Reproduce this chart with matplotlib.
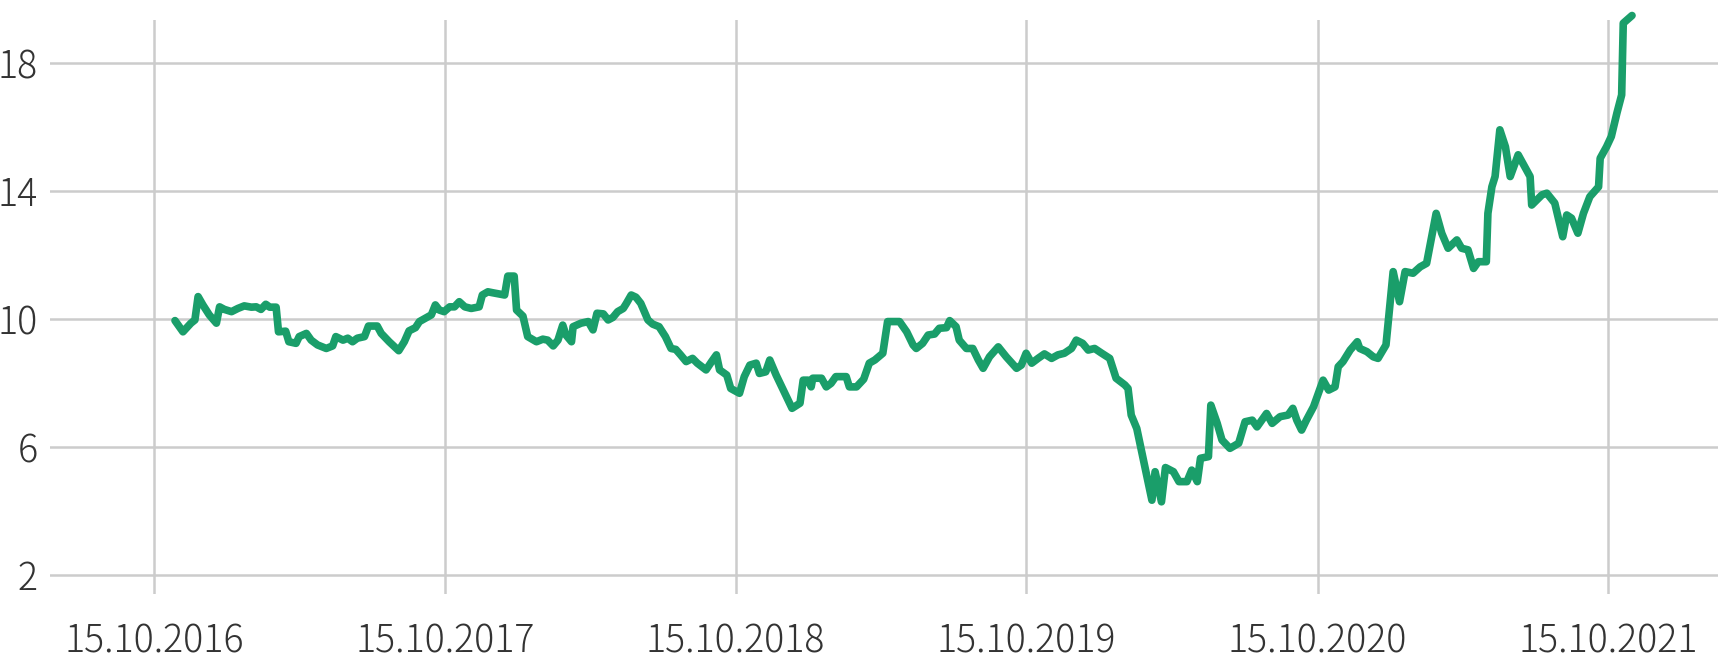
import pandas as pd
import matplotlib
matplotlib.use("Agg")
import matplotlib.pyplot as plt
import matplotlib.dates as mdates

plt.rcParams['font.family'] = ['Noto Sans CJK JP', 'DejaVu Sans']

# --- Datos (fecha, valor) ---
dates_2016 = ["2016-11-10", "2016-11-20", "2016-11-30", "2016-12-05", "2016-12-09", "2016-12-15", "2016-12-23"]
values_2016 = [9.95, 9.60, 9.87, 9.97, 10.70, 10.44, 10.13]

dates_2017 = ["2017-01-01", "2017-01-05", "2017-01-11", "2017-01-20", "2017-01-28", "2017-02-05", "2017-02-14",
              "2017-02-20", "2017-02-26", "2017-03-04", "2017-03-09", "2017-03-17", "2017-03-20", "2017-03-29",
              "2017-04-02", "2017-04-11", "2017-04-15", "2017-04-24", "2017-04-30", "2017-05-08", "2017-05-19",
              "2017-05-27", "2017-05-31", "2017-06-09", "2017-06-15", "2017-06-21", "2017-06-27", "2017-07-06",
              "2017-07-11", "2017-07-22", "2017-07-27", "2017-08-06", "2017-08-18", "2017-08-25", "2017-08-31",
              "2017-09-08", "2017-09-13", "2017-09-28", "2017-10-03", "2017-10-08", "2017-10-14", "2017-10-21",
              "2017-10-27", "2017-11-02", "2017-11-09", "2017-11-17", "2017-11-27", "2017-12-01", "2017-12-08",
              "2017-12-14", "2017-12-23", "2017-12-29"]
values_2017 = [9.87, 10.38, 10.30, 10.23, 10.33, 10.41, 10.37,
               10.38, 10.30, 10.46, 10.37, 10.37, 9.60, 9.62,
               9.29, 9.24, 9.45, 9.55, 9.34, 9.19, 9.08,
               9.16, 9.45, 9.34, 9.40, 9.29, 9.40, 9.45,
               9.78, 9.78, 9.55, 9.29, 9.01, 9.29, 9.63,
               9.73, 9.92, 10.13, 10.44, 10.28, 10.23, 10.38,
               10.38, 10.54, 10.38, 10.33, 10.38, 10.75, 10.85,
               10.82, 10.78, 10.75]

dates_2018 = ["2018-01-02", "2018-01-10", "2018-01-13", "2018-01-21", "2018-01-27", "2018-02-07", "2018-02-15",
              "2018-02-21", "2018-02-28", "2018-03-06", "2018-03-12", "2018-03-16", "2018-03-23", "2018-03-25",
              "2018-04-04", "2018-04-13", "2018-04-19", "2018-04-24", "2018-05-02", "2018-05-08", "2018-05-14",
              "2018-05-20", "2018-05-27", "2018-05-31", "2018-06-06", "2018-06-12", "2018-06-18", "2018-06-27",
              "2018-07-03", "2018-07-11", "2018-07-19", "2018-07-26", "2018-08-01", "2018-08-07", "2018-08-14",
              "2018-08-22", "2018-08-28", "2018-09-08", "2018-09-15", "2018-09-21", "2018-09-25", "2018-10-04",
              "2018-10-09", "2018-10-20", "2018-10-26", "2018-11-02", "2018-11-10", "2018-11-14", "2018-11-22",
              "2018-11-27", "2018-12-05", "2018-12-16", "2018-12-25"]
values_2018 = [11.34, 11.34, 10.28, 10.09, 9.45, 9.29, 9.37,
               9.34, 9.16, 9.34, 9.81, 9.50, 9.29, 9.76,
               9.87, 9.92, 9.66, 10.18, 10.16, 9.97, 10.05,
               10.23, 10.33, 10.49, 10.75, 10.68, 10.49, 9.97,
               9.84, 9.76, 9.45, 9.08, 9.05, 8.88, 8.67,
               8.77, 8.62, 8.41, 8.67, 8.88, 8.41, 8.25,
               7.83, 7.68, 8.20, 8.56, 8.62, 8.30, 8.35,
               8.72, 8.25, 7.68, 7.21]

dates_2019 = ["2019-01-04", "2019-01-08", "2019-01-14", "2019-01-18", "2019-01-20", "2019-01-31", "2019-02-06",
              "2019-02-12", "2019-02-18", "2019-03-03", "2019-03-07", "2019-03-16", "2019-03-25", "2019-04-01",
              "2019-04-08", "2019-04-18", "2019-04-24", "2019-05-09", "2019-05-18", "2019-05-26", "2019-05-30",
              "2019-06-07", "2019-06-14", "2019-06-22", "2019-06-28", "2019-07-07", "2019-07-11", "2019-07-19",
              "2019-07-23", "2019-08-01", "2019-08-09", "2019-08-16", "2019-08-22", "2019-08-30", "2019-09-10",
              "2019-09-20", "2019-10-03", "2019-10-09", "2019-10-15", "2019-10-22", "2019-10-30", "2019-11-07",
              "2019-11-16", "2019-11-24", "2019-12-02", "2019-12-11", "2019-12-17", "2019-12-25"]
values_2019 = [7.37, 8.09, 8.09, 7.88, 8.15, 8.15, 7.88,
               7.99, 8.20, 8.20, 7.88, 7.88, 8.12, 8.62,
               8.72, 8.93, 9.92, 9.92, 9.60, 9.19, 9.08,
               9.24, 9.50, 9.53, 9.71, 9.73, 9.95, 9.76,
               9.34, 9.08, 9.08, 8.72, 8.46, 8.82, 9.13,
               8.82, 8.46, 8.56, 8.93, 8.62, 8.77, 8.91,
               8.77, 8.88, 8.93, 9.08, 9.34, 9.24]

dates_2020 = ["2020-01-01", "2020-01-09", "2020-01-18", "2020-01-28", "2020-02-05", "2020-02-16", "2020-02-20",
              "2020-02-24", "2020-03-02", "2020-03-13", "2020-03-21", "2020-03-25", "2020-04-02", "2020-04-07",
              "2020-04-17", "2020-04-24", "2020-05-04", "2020-05-10", "2020-05-17", "2020-05-21", "2020-05-31",
              "2020-06-03", "2020-06-11", "2020-06-17", "2020-06-27", "2020-07-08", "2020-07-16", "2020-07-25",
              "2020-07-31", "2020-08-12", "2020-08-19", "2020-08-29", "2020-09-08", "2020-09-14", "2020-09-19",
              "2020-09-25", "2020-10-01", "2020-10-10", "2020-10-16", "2020-10-22", "2020-10-29", "2020-11-06",
              "2020-11-10", "2020-11-16", "2020-11-25", "2020-12-04", "2020-12-07", "2020-12-16", "2020-12-24",
              "2020-12-30"]
values_2020 = [9.03, 9.08, 8.93, 8.77, 8.15, 7.94, 7.83,
               7.00, 6.58, 5.28, 4.34, 5.23, 4.29, 5.36,
               5.23, 4.92, 4.92, 5.28, 4.92, 5.65, 5.70,
               7.31, 6.74, 6.22, 5.96, 6.12, 6.79, 6.84,
               6.63, 7.05, 6.74, 6.95, 7.00, 7.21, 6.84,
               6.53, 6.84, 7.26, 7.68, 8.09, 7.78, 7.88,
               8.51, 8.67, 9.03, 9.29, 9.08, 8.98, 8.82,
               8.77]

dates_2021 = ["2021-01-09", "2021-01-18", "2021-01-26", "2021-02-02", "2021-02-12", "2021-02-21", "2021-03-01",
              "2021-03-13", "2021-03-20", "2021-03-28", "2021-04-08", "2021-04-14", "2021-04-22", "2021-04-29",
              "2021-05-05", "2021-05-15", "2021-05-17", "2021-05-22", "2021-05-26", "2021-06-01", "2021-06-08",
              "2021-06-14", "2021-06-24", "2021-07-01", "2021-07-09", "2021-07-11", "2021-07-24", "2021-07-30",
              "2021-08-09", "2021-08-19", "2021-08-24", "2021-08-30", "2021-09-07", "2021-09-14", "2021-09-22",
              "2021-10-03", "2021-10-05", "2021-10-13", "2021-10-19", "2021-10-26", "2021-11-01", "2021-11-03",
              "2021-11-14"]
values_2021 = [9.19, 11.48, 10.54, 11.48, 11.43, 11.63, 11.74,
               13.30, 12.68, 12.21, 12.47, 12.21, 12.16, 11.58,
               11.79, 11.79, 13.30, 14.13, 14.45, 15.91, 15.38,
               14.45, 15.13, 14.81, 14.45, 13.56, 13.88, 13.93,
               13.62, 12.57, 13.25, 13.15, 12.68, 13.30, 13.82,
               14.13, 15.02, 15.38, 15.70, 16.43, 17.00, 19.24,
               19.48]

y_ticks = [2, 6, 10, 14, 18]
x_ticks = ["2016-10-15", "2017-10-15", "2018-10-15", "2019-10-15", "2020-10-15", "2021-10-15"]

dates = pd.to_datetime(dates_2016 + dates_2017 + dates_2018 + dates_2019 + dates_2020 + dates_2021)
values = values_2016 + values_2017 + values_2018 + values_2019 + values_2020 + values_2021

W, H = 1718, 658
fig = plt.figure(figsize=(W / 100, H / 100), dpi=100)
ax = fig.add_axes([50 / W, 64 / H, 1668 / W, 574 / H])

ax.plot(dates, values, color="#1a9e6a", linewidth=5.5,
        solid_joinstyle="round", solid_capstyle="round", clip_on=False, zorder=3)

ax.set_ylim(1.41, 19.34)
ax.set_xlim(pd.Timestamp("2016-06-06"), pd.Timestamp("2022-03-02"))
ax.set_yticks(y_ticks)
ax.set_xticks(pd.to_datetime(x_ticks))
ax.xaxis.set_major_formatter(mdates.DateFormatter("%d.%m.%Y"))

ax.grid(True, color="#cccccc", linewidth=1.8)
ax.set_axisbelow(True)
for s in ax.spines.values():
    s.set_visible(False)

ax.tick_params(axis="both", length=0, labelsize=27, labelcolor="#333333")
ax.tick_params(axis="x", pad=20)
ax.tick_params(axis="y", pad=9)
for lbl in ax.get_xticklabels() + ax.get_yticklabels():
    lbl.set_fontweight("light")

fig.savefig("out.png", dpi=100)
